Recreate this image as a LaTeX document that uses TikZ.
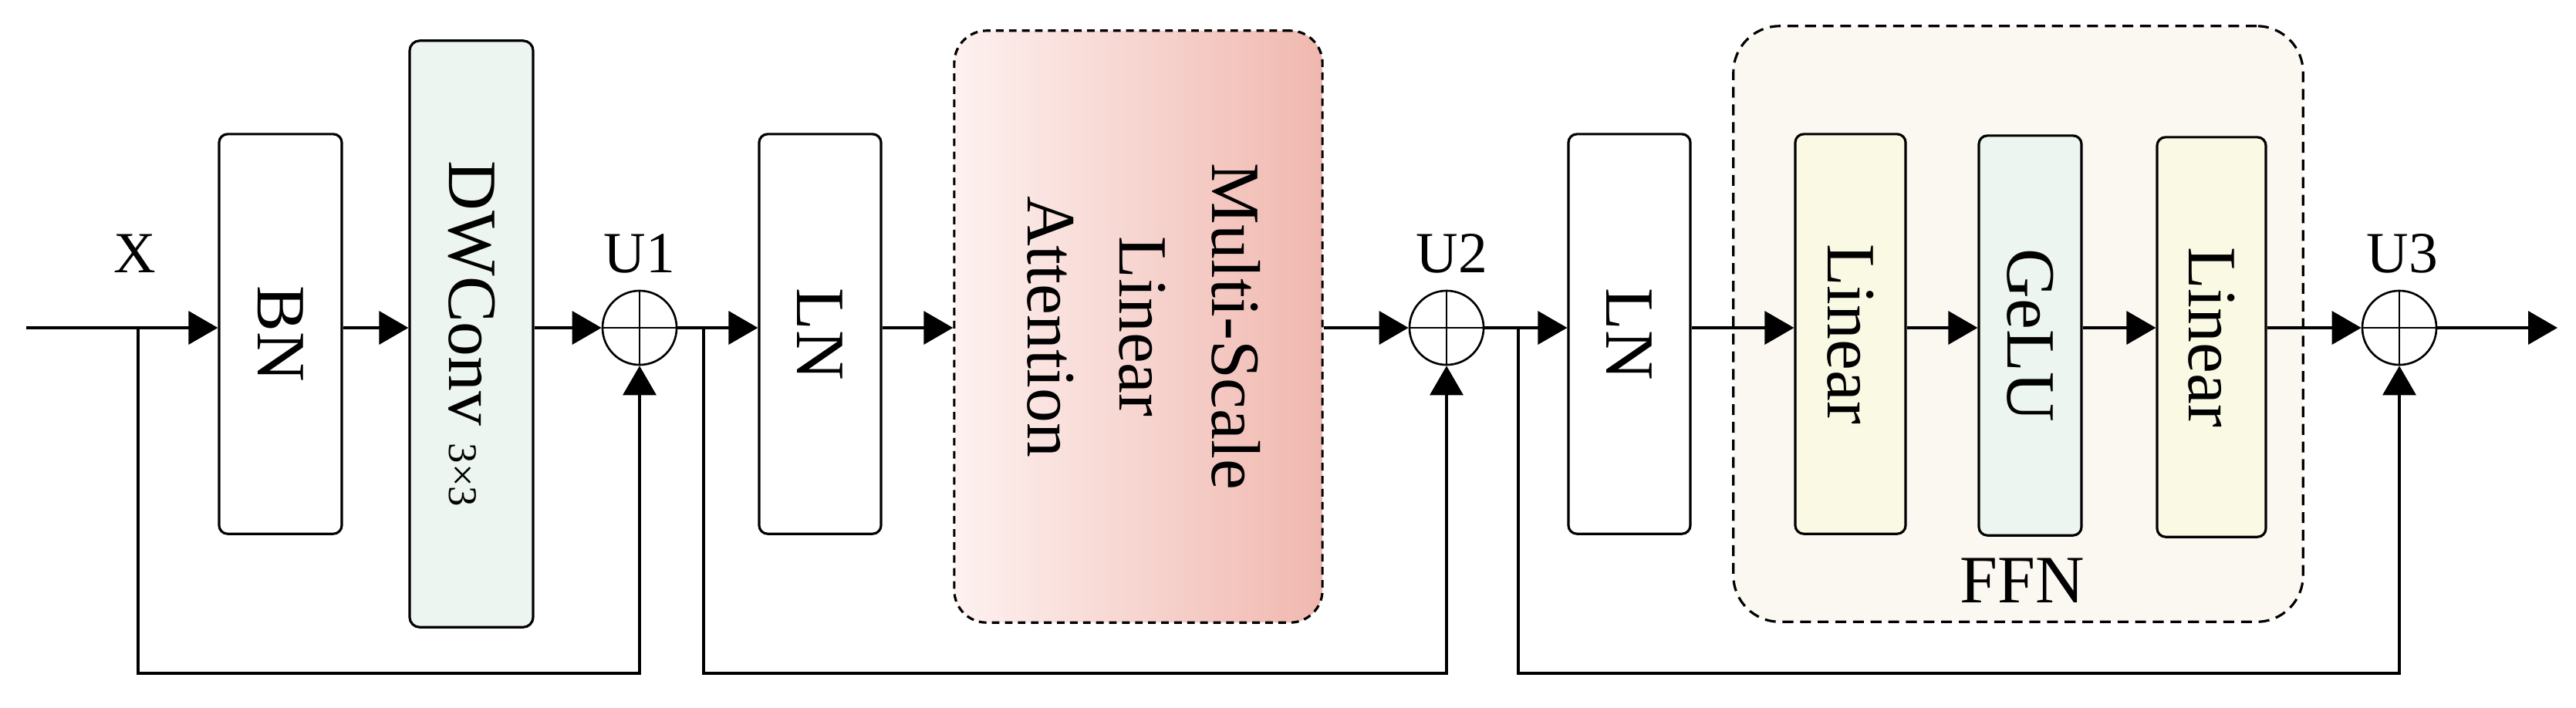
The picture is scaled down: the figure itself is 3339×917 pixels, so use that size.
\documentclass[tikz,border=0pt]{standalone}
\usepackage{fontspec}
\setmainfont{Liberation Serif}
\usepackage{graphicx}
\usetikzlibrary{arrows.meta}
\definecolor{convfill}{HTML}{EDF5F0}
\definecolor{linfill}{HTML}{FAF9E4}
\definecolor{ffnfill}{HTML}{FBF8F2}
\definecolor{mslaleft}{HTML}{FDF1F0}
\definecolor{mslaright}{HTML}{F0B8AF}
\begin{document}
\begin{tikzpicture}[x=0.01cm, y=-0.01cm,
                    block/.style = {shape = rectangle,
                                    draw,
                                    line width = 0.9pt,
                                    rounded corners = 0.11cm,
                                    inner sep = 0pt,
                                    minimum height = 5.18cm,
                                    font = \fontsize{25.5}{34}\selectfont},
                    group/.style = {shape = rectangle,
                                    draw,
                                    line width = 0.9pt,
                                    inner sep = 0pt},
                    addnode/.style = {shape = circle,
                                      draw,
                                      line width = 0.75pt,
                                      minimum size = 0.96cm,
                                      inner sep = 0pt,
                                      path picture = {\draw[line width = 0.75pt]
                                        (path picture bounding box.north) -- (path picture bounding box.south)
                                        (path picture bounding box.west) -- (path picture bounding box.east);}},
                    arr/.style = {line width = 1pt, -{Triangle[length = 0.38cm, width = 0.43cm]}},
                    wire/.style = {line width = 1pt},
                    tag/.style = {font = \fontsize{21.5}{26}\selectfont, anchor = base}]
		\useasboundingbox (0,0) rectangle (3339,917);
		% groups
		\node[group, fill = ffnfill, dash pattern = on 4pt off 2.5pt, rounded corners = 0.6cm,
		      minimum width = 7.38cm, minimum height = 7.72cm] (ffn) at (2616,420) {};
		\node[group, left color = mslaleft, right color = mslaright, dash pattern = on 2.8pt off 2pt,
		      rounded corners = 0.42cm, minimum width = 4.77cm, minimum height = 7.67cm,
		      font = \fontsize{25.5}{34}\selectfont] (msa) at (1475.5,423.5)
		      {\rotatebox{-90}{\begin{tabular}{@{}c@{}}Multi-Scale\\Linear\\Attention\end{tabular}}};
		% blocks
		\node[block, minimum width = 1.59cm] (bn) at (363.5,433) {\rotatebox{-90}{BN}};
		\node[block, fill = convfill, rounded corners = 0.13cm, minimum width = 1.60cm, minimum height = 7.60cm] (dw) at (611,433)
		      {\rotatebox{-90}{DWConv {\fontsize{15}{18}\selectfont 3×3}}};
		\node[addnode] (u1) at (829,425) {};
		\node[block, minimum width = 1.58cm] (ln1) at (1063,433) {\rotatebox{-90}{LN}};
		\node[addnode] (u2) at (1875,425) {};
		\node[block, minimum width = 1.58cm] (ln2) at (2112,433) {\rotatebox{-90}{LN}};
		\node[block, fill = linfill, minimum width = 1.43cm] (lin1) at (2398.5,433) {\rotatebox{-90}{Linear}};
		\node[block, fill = convfill, minimum width = 1.33cm] (gelu) at (2631.5,435) {\rotatebox{-90}{GeLU}};
		\node[block, fill = linfill, minimum width = 1.41cm] (lin2) at (2866.5,437) {\rotatebox{-90}{Linear}};
		\node[addnode] (u3) at (3110,425) {};
		% labels
		\node[tag] (xl) at (175,353) {X};
		\node[tag] (u1l) at (829,353) {U1};
		\node[tag] (u2l) at (1882,353) {U2};
		\node[tag] (u3l) at (3114,353) {U3};
		\node[anchor = base, font = \fontsize{25}{30}\selectfont] (ffnl) at (2621,781) {FFN};
		% main path
		\coordinate (in) at (34,425);
		\coordinate (out) at (3315,425);
		\coordinate (low) at (0,873);
		\coordinate (s1) at (179,425);
		\coordinate (s2) at (912,425);
		\coordinate (s3) at (1968,425);
		\draw[arr] (in) -- (in -| bn.west);
		\draw[arr] (bn.east |- in) -- (dw.west |- in);
		\draw[arr] (dw.east |- in) -- (u1.west);
		\draw[arr] (u1.east) -- (ln1.west |- in);
		\draw[arr] (ln1.east |- in) -- (msa.west |- in);
		\draw[arr] (msa.east |- in) -- (u2.west);
		\draw[arr] (u2.east) -- (ln2.west |- in);
		\draw[arr] (ln2.east |- in) -- (lin1.west |- in);
		\draw[arr] (lin1.east |- in) -- (gelu.west |- in);
		\draw[arr] (gelu.east |- in) -- (lin2.west |- in);
		\draw[arr] (lin2.east |- in) -- (u3.west);
		\draw[arr] (u3.east) -- (out);
		% skips
		\draw[arr] (s1) -- (s1 |- low) -| (u1.south);
		\draw[arr] (s2) -- (s2 |- low) -| (u2.south);
		\draw[arr] (s3) -- (s3 |- low) -| (u3.south);
	\end{tikzpicture}
\end{document}
